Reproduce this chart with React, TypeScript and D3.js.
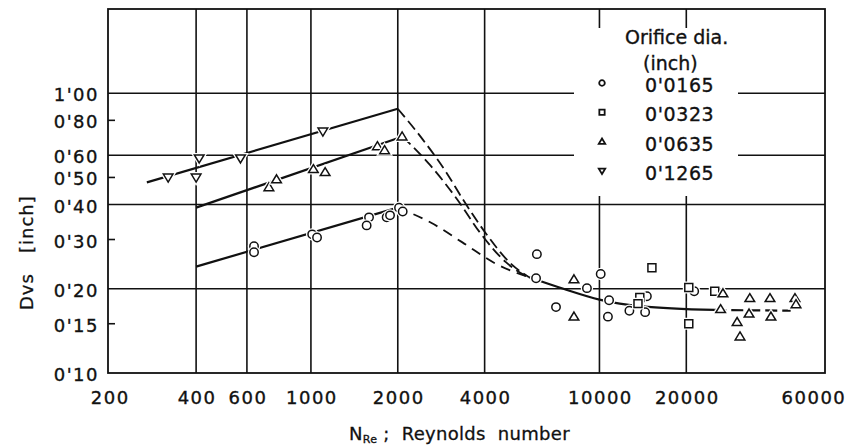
import React from "react";
import * as d3 from "d3";

const W = 847, H = 445;
const margin = { top: 9, right: 22, bottom: 72, left: 108 };

// axis ticks
const xTickValues = [200, 400, 600, 1000, 2000, 4000, 10000, 20000, 60000];
const xGridValues = [400, 600, 1000, 2000, 4000, 10000, 20000];
const yTickValues = [0.1, 0.15, 0.2, 0.3, 0.4, 0.5, 0.6, 0.8, 1.0];
const yGridValues = [0.2, 0.4, 0.6, 1.0];
const yMinorValues = [0.15, 0.3, 0.5, 0.8];

// orifice diameters (inch) and their symbols
const diameters = ["0'0165", "0'0323", "0'0635", "0'1265"];
const shapes = ["circle", "square", "triangle", "triangleDown"];

// measured points [Reynolds number, Dvs inch]
const pts0165 = [
  [635, 0.284], [635, 0.27], [1010, 0.313], [1050, 0.305], [1590, 0.36],
  [1560, 0.337], [1830, 0.36], [1880, 0.366], [2020, 0.39], [2080, 0.378],
  [6070, 0.266], [6030, 0.218], [7070, 0.172], [9050, 0.201], [10100, 0.226],
  [10800, 0.182], [10700, 0.159], [12700, 0.167], [14400, 0.165], [14600, 0.188],
  [21300, 0.196],
];
const pts0323 = [
  [15200, 0.238], [13800, 0.186], [13600, 0.177], [20400, 0.202], [20400, 0.15],
  [25100, 0.196],
];
const pts0635 = [
  [715, 0.461], [760, 0.492], [1020, 0.535], [1120, 0.522], [1700, 0.646],
  [1800, 0.625], [2070, 0.7],
  [8160, 0.216], [8160, 0.159], [26800, 0.1925], [26300, 0.169], [30000, 0.152],
  [30700, 0.135], [33200, 0.185], [33000, 0.163], [39000, 0.185], [39300, 0.159],
  [47600, 0.185], [48000, 0.176],
];
const pts1265 = [
  [320, 0.5], [410, 0.585], [400, 0.5], [570, 0.585], [1100, 0.73],
];

// fitted lines
const fitLow1265 = [[270, 0.48], [2000, 0.88]];
const fitLow0635 = [[400, 0.39], [2080, 0.7]];
const fitLow0165 = [[400, 0.24], [2000, 0.39]];
const trans1265 = [[2000, 0.88], [2450, 0.68], [2950, 0.52], [3350, 0.42], [4000, 0.32], [4950, 0.245], [5700, 0.22]];
const trans0635 = [[2080, 0.7], [2590, 0.553], [3210, 0.418], [3850, 0.318], [4740, 0.249], [5700, 0.219]];
const trans0165 = [[2000, 0.39], [2600, 0.345], [3350, 0.293], [4400, 0.245], [5700, 0.22]];
const fitHigh = [[5700, 0.22], [7500, 0.2], [10000, 0.183], [14000, 0.173], [25000, 0.168]];
const fitHighTail = [[25000, 0.168], [46000, 0.167]];

const font = "'DejaVu Sans', sans-serif";

const markerPath = (shape: string, s: number) => {
  if (shape === "circle") return `M${s},0A${s},${s} 0 1,1 ${-s},0A${s},${s} 0 1,1 ${s},0Z`;
  if (shape === "square") return `M${-s * 0.95},${-s * 0.95}H${s * 0.95}V${s * 0.95}H${-s * 0.95}Z`;
  if (shape === "triangle") return `M0,${-s * 1.1}L${s * 1.15},${s * 0.8}L${-s * 1.15},${s * 0.8}Z`;
  return `M0,${s * 1.1}L${s * 1.15},${-s * 0.8}L${-s * 1.15},${-s * 0.8}Z`;
};

const fmt = (v: number) => v.toFixed(2).replace(".", "'");

export default function App() {
  const x = d3.scaleLog().domain([198, 60500]).range([margin.left, W - margin.right]);
  const y = d3.scaleLog().domain([0.1, 2.0]).range([H - margin.bottom, margin.top]);

  const straight = d3.line<number[]>().x(d => x(d[0])).y(d => y(d[1]));
  const curved = d3.line<number[]>().x(d => x(d[0])).y(d => y(d[1])).curve(d3.curveMonotoneX);

  const series = [pts0165, pts0323, pts0635, pts1265];
  const [x0, x1] = x.range();
  const [yb, yt] = y.range();

  const legendX = 574, legendY = 28, legendW = 164, legendH = 168;

  return (
    <svg width={W} height={H} style={{ position: "absolute", left: 0, top: 0, background: "#fff" }}>
      <rect x={0} y={0} width={W} height={H} fill="#fff" />
      {/* grid */}
      {xGridValues.map(v => (
        <line key={"gx" + v} x1={x(v)} x2={x(v)} y1={yt} y2={yb} stroke="#111" strokeWidth={1.6} />
      ))}
      {yGridValues.map(v => (
        <line key={"gy" + v} x1={x0} x2={x1} y1={y(v)} y2={y(v)} stroke="#111" strokeWidth={1.6} />
      ))}
      {yMinorValues.map(v => (
        <line key={"my" + v} x1={x0} x2={x0 + 7} y1={y(v)} y2={y(v)} stroke="#111" strokeWidth={1.6} />
      ))}
      <rect x={x0} y={yt} width={x1 - x0} height={yb - yt} fill="none" stroke="#111" strokeWidth={1.8} />

      {/* legend background */}
      <rect x={legendX} y={legendY} width={legendW} height={legendH} fill="#fff" />

      {/* fitted lines */}
      {[fitLow1265, fitLow0635, fitLow0165].map((d, i) => (
        <path key={"fl" + i} d={straight(d) || ""} fill="none" stroke="#111" strokeWidth={2.2} />
      ))}
      {[trans1265, trans0635].map((d, i) => (
        <path key={"tr" + i} d={curved(d) || ""} fill="none" stroke="#111" strokeWidth={1.8} strokeDasharray="11 5" />
      ))}
      <path d={curved(trans0165) || ""} fill="none" stroke="#111" strokeWidth={1.8} strokeDasharray="10 7" />
      <path d={curved(fitHigh) || ""} fill="none" stroke="#111" strokeWidth={2.2} />
      <path d={straight(fitHighTail) || ""} fill="none" stroke="#111" strokeWidth={2.2} strokeDasharray="12 5" />

      {/* markers */}
      {series.map((pts, si) =>
        pts.map((p, i) => (
          <g key={`m${si}-${i}`} transform={`translate(${x(p[0])},${y(p[1])})`}>
            <path d={markerPath(shapes[si], 4.2)} fill="#fff" stroke="#fff" strokeWidth={4} />
            <path d={markerPath(shapes[si], 4.2)} fill="#fff" stroke="#111" strokeWidth={1.5} />
          </g>
        ))
      )}

      {/* legend */}
      <g fontFamily={font} fill="#111" stroke="#111" strokeWidth={0.35}>
        <text x={625} y={44} fontSize={19}>Orifice dia.</text>
        <text x={643} y={70} fontSize={19}>(inch)</text>
        {diameters.map((d, i) => (
          <g key={d} transform={`translate(0,${i * 29.3})`}>
            <path transform={`translate(602,83)`} d={markerPath(shapes[i], 2.8)} fill="#fff" stroke="#111" strokeWidth={1.8} />
            <text x={645} y={92} fontSize={19} letterSpacing={0.6}>{d}</text>
          </g>
        ))}
      </g>

      {/* y tick labels */}
      <g fontFamily={font} fontSize={18} fill="#111" stroke="#111" strokeWidth={0.35} textAnchor="end">
        {yTickValues.map(v => (
          <text key={"yl" + v} x={x0 - 9} y={y(v) + 8} letterSpacing={1.5}>{fmt(v)}</text>
        ))}
      </g>

      {/* x tick labels */}
      <g fontFamily={font} fontSize={18} fill="#111" stroke="#111" strokeWidth={0.35} textAnchor="middle">
        {xTickValues.map((v, i) => (
          <text key={"xl" + v} x={x(v) + (i === xTickValues.length - 1 ? -10 : 1)} y={404} letterSpacing={1.5}>{v}</text>
        ))}
      </g>

      {/* axis titles */}
      <text
        transform={`translate(33,${(y(0.4) + y(0.2)) / 2 + 6}) rotate(-90)`}
        fontFamily={font} fontSize={18} fill="#111" stroke="#111" strokeWidth={0.3} textAnchor="middle" letterSpacing={1}
        style={{ whiteSpace: "pre" }}
      >
        {"Dvs   [inch]"}
      </text>
      <text x={349} y={440} fontFamily={font} fontSize={18} fill="#111" stroke="#111" strokeWidth={0.3} letterSpacing={0.3} style={{ whiteSpace: "pre" }}>
        N<tspan fontSize={11} dy={3}>Re</tspan><tspan dy={-3}>{" ;  Reynolds  number"}</tspan>
      </text>
    </svg>
  );
}
